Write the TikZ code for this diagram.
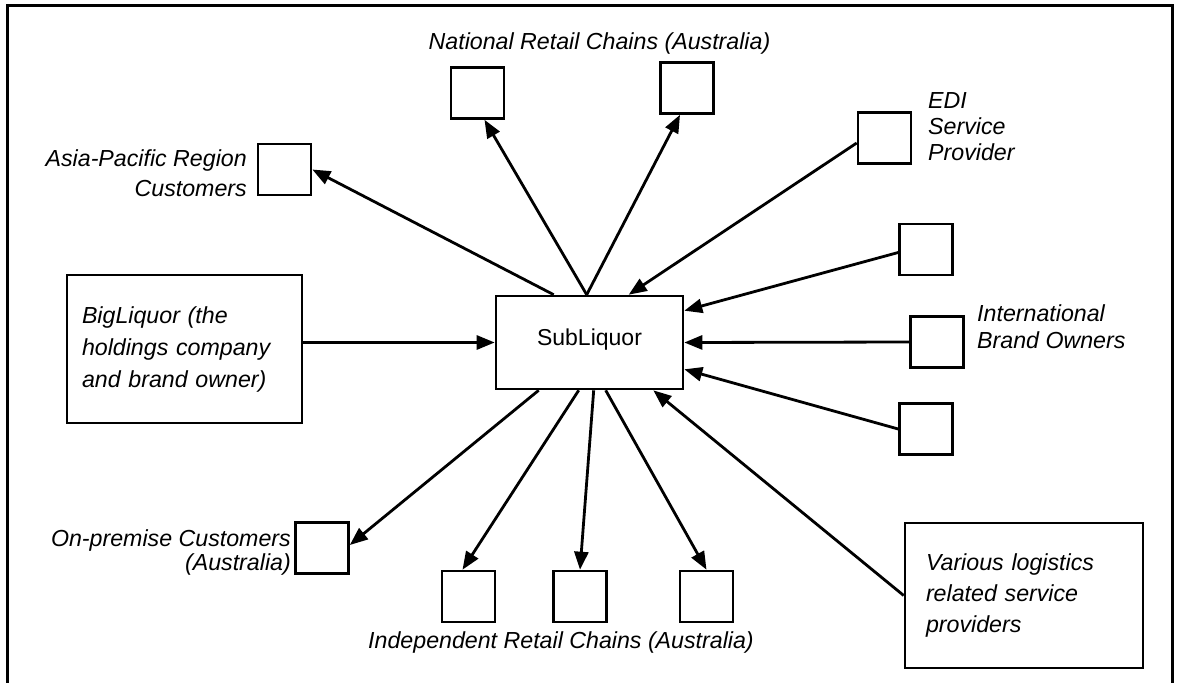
\documentclass[tikz,border=0pt]{standalone}
\usepackage{fontspec}
\setmainfont{Liberation Sans}
\usetikzlibrary{arrows.meta}
\begin{document}
\begin{tikzpicture}[x=1pt,y=-1pt,
  box/.style={draw, line width=2.6pt, inner sep=0pt},
  smallbox/.style={box, minimum width=53pt, minimum height=51pt},
  lbl/.style={inner sep=0pt, font=\fontsize{23.2}{#1}\selectfont\itshape},
  lbl/.default=30,
  link/.style={line width=2.8pt, -{Triangle[length=18pt,width=14pt]}},
]
\useasboundingbox (0,0) rectangle (1179,683);
% outer frame, open at the bottom
\draw[line width=3pt] (7,683) -- (7,5) -- (1172,5) -- (1172,683);

% central company and the two large boxes
\node[box, minimum width=187pt, minimum height=93pt, text depth=11pt, font=\fontsize{23}{28}\selectfont] (sub) at (589.5,342.5) {SubLiquor};
\node[box, minimum width=235pt, minimum height=148pt, text width=205pt, align=left, inner xsep=15pt,
      font=\fontsize{23.2}{32}\selectfont\itshape] (big) at (184.5,349) {BigLiquor (the\\holdings company\\and brand owner)};
\node[box, minimum width=238pt, minimum height=145pt, text width=196pt, align=left, inner xsep=21pt,
      font=\fontsize{23.2}{31}\selectfont\itshape] (var) at (1024,595.5) {Various logistics\\related service\\providers};

% partner boxes
\node[smallbox] (asia) at (284.5,169.5) {};
\node[smallbox] (nat1) at (477.5,93) {};
\node[smallbox] (nat2) at (687,88) {};
\node[smallbox] (edi)  at (884.5,138) {};
\node[smallbox] (r1)   at (926,249.5) {};
\node[smallbox] (intl) at (937,342) {};
\node[smallbox] (r3)   at (926,429) {};
\node[smallbox] (onp)  at (322,548) {};
\node[smallbox] (ind1) at (468.5,596.5) {};
\node[smallbox] (ind2) at (580,596.5) {};
\node[smallbox] (ind3) at (706.5,596.5) {};

% group labels
\node[lbl] (natlbl) at (599.5,43) {National Retail Chains (Australia)};
\node[lbl=26, align=left, anchor=west] (edilbl) at (928,127) {EDI\\Service\\Provider};
\node[lbl, align=right, anchor=east] (asialbl) at (247,173) {Asia-Pacific Region\\Customers};
\node[lbl=27, align=left, anchor=west] (intllbl) at (977,327) {International\\Brand Owners};
\node[lbl=24, align=right, anchor=east] (onplbl) at (291,552) {On-premise Customers\\(Australia)};
\node[lbl] (indlbl) at (561,642) {Independent Retail Chains (Australia)};

% flows
\draw[link] (big.east |- sub.west) -- (sub.west);
\draw[link] ([xshift=59pt]sub.north west) -- (asia.east);
\draw[link] ([xshift=92pt]sub.north west) -- ([xshift=7pt]nat1.south);
\draw[link] ([xshift=92pt]sub.north west) -- ([xshift=-7pt]nat2.south);
\draw[link] ([yshift=-5pt]edi.west) -- ([xshift=134pt]sub.north west);
\draw[link] ([yshift=-3pt]r1.west) -- ([yshift=-16pt]sub.north east);
\draw[link] (intl.west) -- (sub.east);
\draw[link] (r3.west) -- ([yshift=21pt]sub.south east);
\draw[link] (var.west) -- ([xshift=-31pt]sub.south east);
\draw[link] ([xshift=44pt]sub.south west) -- ([yshift=3pt]onp.east);
\draw[link] ([xshift=84pt]sub.south west) -- ([xshift=-6pt]ind1.north);
\draw[link] ([xshift=99pt]sub.south west) -- (ind2.north);
\draw[link] ([xshift=111pt]sub.south west) -- (ind3.north);
\end{tikzpicture}
\end{document}
